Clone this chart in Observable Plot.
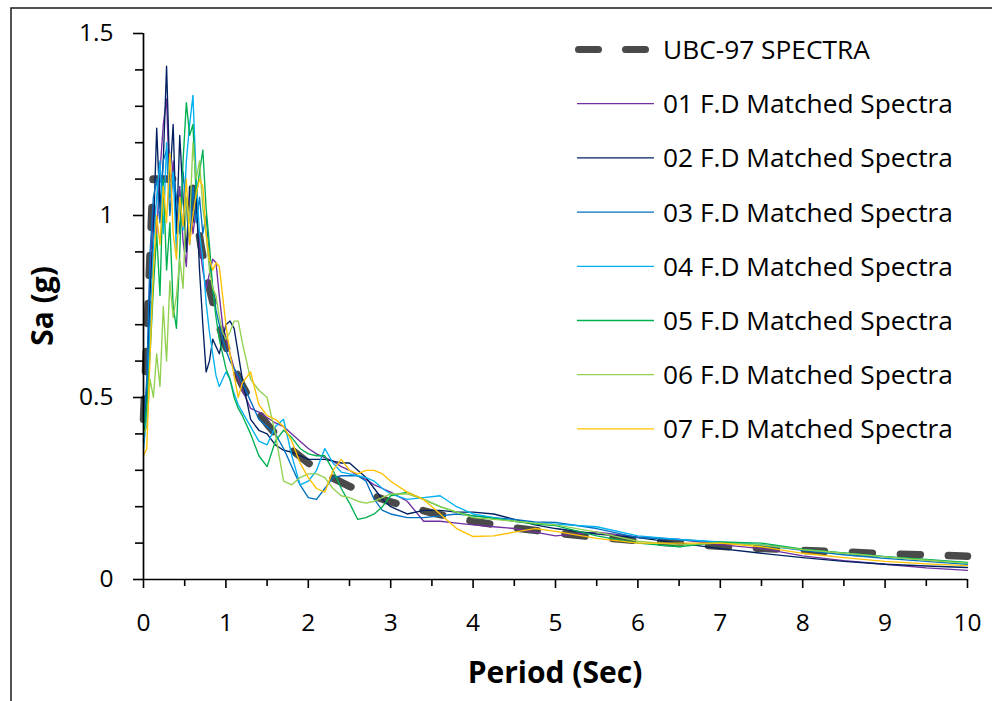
<!DOCTYPE html>
<html>
<head>
<meta charset="utf-8">
<script src="https://cdn.jsdelivr.net/npm/d3@7"></script>
<script src="https://cdn.jsdelivr.net/npm/@observablehq/plot@0.6"></script>
<style>
  html, body { margin: 0; padding: 0; background: #fff; }
  #chart svg { display: block; }
</style>
</head>
<body>
<div id="chart"></div>
<script>
// ---------- DATA ----------
const periods = [0, 0.04, 0.08, 0.12, 0.16, 0.20, 0.24, 0.28, 0.32, 0.36, 0.40, 0.44, 0.48, 0.52, 0.56, 0.60, 0.64, 0.68, 0.72, 0.76, 0.80, 0.84, 0.88, 0.92, 0.96, 1.00, 1.05, 1.10, 1.15, 1.20, 1.3, 1.4, 1.5, 1.6, 1.7, 1.8, 1.9, 2.0, 2.1, 2.2, 2.3, 2.4, 2.5, 2.6, 2.7, 2.8, 2.9, 3.0, 3.2, 3.4, 3.6, 3.8, 4.0, 4.25, 4.5, 4.75, 5.0, 5.5, 6.0, 6.5, 7.0, 7.5, 8.0, 8.5, 9.0, 9.5, 10];

const ubcPeriods = [0, 0.116, 0.58, 0.6, 0.65, 0.7, 0.75, 0.8, 0.85, 0.9, 0.95, 1.0, 1.1, 1.2, 1.3, 1.4, 1.5, 1.6, 1.8, 2.0, 2.25, 2.5, 2.75, 3.0, 3.5, 4.0, 4.5, 5.0, 5.5, 6.0, 7.0, 8.0, 9.0, 10.0];
const ubcSa = [0.44, 1.1, 1.1, 1.067, 0.985, 0.914, 0.853, 0.8, 0.753, 0.711, 0.674, 0.64, 0.582, 0.533, 0.492, 0.457, 0.427, 0.4, 0.356, 0.32, 0.284, 0.256, 0.233, 0.213, 0.183, 0.16, 0.142, 0.128, 0.116, 0.107, 0.091, 0.08, 0.071, 0.064];

const fd01 = [0.40, 0.52, 0.85, 1.02, 0.95, 1.12, 1.25, 1.32, 1.05, 1.15, 0.98, 1.08, 0.93, 0.86, 1.05, 0.95, 1.02, 0.92, 0.85, 0.80, 0.84, 0.88, 0.87, 0.78, 0.70, 0.66, 0.62, 0.58, 0.55, 0.52, 0.47, 0.46, 0.445, 0.43, 0.42, 0.40, 0.38, 0.36, 0.345, 0.335, 0.325, 0.31, 0.30, 0.285, 0.275, 0.26, 0.25, 0.24, 0.215, 0.16, 0.16, 0.155, 0.15, 0.145, 0.14, 0.13, 0.12, 0.13, 0.117, 0.11, 0.096, 0.085, 0.065, 0.052, 0.042, 0.032, 0.025];
const fd02 = [0.38, 0.50, 0.78, 0.95, 1.24, 1.02, 1.15, 1.41, 1.10, 1.25, 0.95, 1.22, 1.05, 0.90, 1.08, 0.98, 1.05, 0.85, 0.70, 0.57, 0.60, 0.66, 0.64, 0.62, 0.66, 0.70, 0.71, 0.69, 0.62, 0.55, 0.44, 0.41, 0.40, 0.37, 0.355, 0.35, 0.34, 0.33, 0.33, 0.33, 0.325, 0.32, 0.32, 0.30, 0.28, 0.25, 0.22, 0.20, 0.18, 0.19, 0.19, 0.185, 0.185, 0.18, 0.165, 0.15, 0.14, 0.125, 0.115, 0.10, 0.085, 0.072, 0.06, 0.05, 0.042, 0.037, 0.033];
const fd03 = [0.42, 0.55, 0.90, 1.05, 1.10, 0.98, 1.15, 1.18, 1.00, 1.12, 1.05, 0.95, 1.12, 1.02, 0.92, 1.08, 0.98, 1.05, 0.95, 1.00, 0.88, 0.80, 0.74, 0.70, 0.66, 0.63, 0.60, 0.58, 0.56, 0.54, 0.49, 0.44, 0.42, 0.40, 0.36, 0.31, 0.26, 0.225, 0.22, 0.25, 0.28, 0.285, 0.285, 0.285, 0.27, 0.22, 0.19, 0.18, 0.17, 0.17, 0.175, 0.18, 0.175, 0.17, 0.165, 0.158, 0.157, 0.14, 0.115, 0.11, 0.102, 0.095, 0.08, 0.068, 0.058, 0.05, 0.042];
const fd04 = [0.36, 0.45, 0.70, 0.92, 1.05, 1.15, 0.95, 1.20, 1.05, 1.12, 0.90, 1.05, 0.96, 1.15, 1.25, 1.33, 1.10, 0.95, 0.88, 0.76, 0.68, 0.62, 0.56, 0.53, 0.55, 0.57, 0.55, 0.51, 0.48, 0.46, 0.42, 0.38, 0.37, 0.42, 0.44, 0.34, 0.26, 0.27, 0.30, 0.36, 0.32, 0.295, 0.29, 0.285, 0.28, 0.27, 0.25, 0.235, 0.22, 0.225, 0.23, 0.20, 0.18, 0.17, 0.16, 0.155, 0.152, 0.145, 0.12, 0.11, 0.103, 0.095, 0.082, 0.072, 0.063, 0.054, 0.044];
const fd05 = [0.40, 0.48, 0.62, 0.80, 0.95, 0.78, 1.10, 0.85, 0.98, 0.75, 0.69, 0.90, 1.15, 1.31, 1.22, 1.25, 1.05, 1.12, 1.18, 1.02, 0.92, 0.80, 0.72, 0.66, 0.62, 0.58, 0.55, 0.50, 0.47, 0.45, 0.40, 0.34, 0.31, 0.38, 0.41, 0.39, 0.36, 0.345, 0.34, 0.34, 0.30, 0.25, 0.21, 0.165, 0.17, 0.18, 0.20, 0.23, 0.24, 0.22, 0.20, 0.185, 0.175, 0.168, 0.16, 0.152, 0.148, 0.12, 0.10, 0.09, 0.103, 0.10, 0.083, 0.073, 0.063, 0.055, 0.047];
const fd06 = [0.40, 0.42, 0.55, 0.50, 0.62, 0.53, 0.75, 0.60, 0.82, 0.72, 0.78, 0.88, 0.80, 1.05, 0.98, 1.20, 1.10, 1.15, 1.02, 0.95, 0.85, 0.80, 0.78, 0.72, 0.68, 0.66, 0.68, 0.71, 0.71, 0.65, 0.55, 0.52, 0.50, 0.40, 0.27, 0.26, 0.28, 0.29, 0.29, 0.28, 0.25, 0.23, 0.225, 0.215, 0.21, 0.215, 0.225, 0.235, 0.235, 0.22, 0.20, 0.185, 0.17, 0.165, 0.16, 0.155, 0.15, 0.13, 0.105, 0.095, 0.10, 0.095, 0.082, 0.072, 0.062, 0.053, 0.045];
const fd07 = [0.34, 0.36, 0.62, 0.85, 1.00, 0.92, 1.08, 0.98, 1.17, 0.95, 0.88, 1.05, 0.97, 1.10, 0.92, 1.00, 1.06, 1.10, 1.08, 0.95, 0.88, 0.85, 0.87, 0.86, 0.78, 0.70, 0.62, 0.56, 0.50, 0.54, 0.57, 0.48, 0.45, 0.44, 0.42, 0.38, 0.32, 0.28, 0.25, 0.24, 0.30, 0.33, 0.30, 0.29, 0.30, 0.30, 0.29, 0.27, 0.24, 0.22, 0.18, 0.14, 0.118, 0.12, 0.13, 0.14, 0.132, 0.113, 0.10, 0.10, 0.10, 0.09, 0.072, 0.06, 0.05, 0.043, 0.038];

const seriesNames = ["01 F.D Matched Spectra", "02 F.D Matched Spectra", "03 F.D Matched Spectra", "04 F.D Matched Spectra", "05 F.D Matched Spectra", "06 F.D Matched Spectra", "07 F.D Matched Spectra"];
const seriesValues = [fd01, fd02, fd03, fd04, fd05, fd06, fd07];
const seriesColors = ["#7030A0", "#002060", "#0070C0", "#00B0F0", "#00B050", "#92D050", "#FFC000"];
const ubcName = "UBC-97 SPECTRA";

const xMajorTicks = [0, 1, 2, 3, 4, 5, 6, 7, 8, 9, 10];
const xMinorTicks = [0.5, 1.5, 2.5, 3.5, 4.5, 5.5, 6.5, 7.5, 8.5, 9.5];
const yMajorTicks = [0, 0.5, 1, 1.5];
const yMinorTicks = [0.1, 0.2, 0.3, 0.4, 0.6, 0.7, 0.8, 0.9, 1.1, 1.2, 1.3, 1.4];
const xTitle = "Period (Sec)";
const yTitle = "Sa (g)";

// ---------- BUILD ----------
const ubcData = ubcPeriods.map((T, i) => ({T, Sa: ubcSa[i]}));
const specData = seriesNames.flatMap((name, k) =>
  periods.map((T, i) => ({T, Sa: seriesValues[k][i], name})));
const colorOf = Object.fromEntries(seriesNames.map((n, i) => [n, seriesColors[i]]));

const FONT = "'Open Sans', Calibri, Carlito, Lato, sans-serif";

const chart = Plot.plot({
  width: 992,
  height: 701,
  marginLeft: 143,
  marginRight: 25,
  marginTop: 33,
  marginBottom: 122,
  style: {fontFamily: FONT, fontSize: "24px", color: "#000", background: "#fff", overflow: "visible"},
  x: {domain: [0, 10], label: null},
  y: {domain: [0, 1.5], label: null},
  marks: [
    Plot.line(ubcData, {x: "T", y: "Sa", stroke: "#4a4a4a", strokeWidth: 7.5,
      strokeDasharray: "20,28", strokeLinecap: "round", strokeLinejoin: "round"}),
    Plot.line(specData, {x: "T", y: "Sa", z: "name", stroke: d => colorOf[d.name], strokeWidth: 1.35}),
    Plot.axisY(yMinorTicks, {tickSize: 8, tickFormat: () => "", label: null, strokeWidth: 1.6, stroke: "#000"}),
    Plot.axisY(yMajorTicks, {tickSize: 10, tickPadding: 20, tickFormat: d => String(d), label: null, strokeWidth: 1.6, stroke: "#000", fontSize: 24.5}),
    Plot.axisX(xMinorTicks, {tickSize: 7, tickFormat: () => "", label: null, strokeWidth: 1.6, stroke: "#000"}),
    Plot.axisX(xMajorTicks, {tickSize: 9, tickPadding: 25, tickFormat: d => String(d), label: null, strokeWidth: 1.6, stroke: "#000", fontSize: 24.5}),
    Plot.ruleX([0], {stroke: "#000", strokeWidth: 1.7}),
    Plot.ruleY([0], {stroke: "#000", strokeWidth: 1.7})
  ]
});

const svg = d3.select(chart);

// outer frame (chart area border)
svg.append("path")
  .attr("d", "M11,701V8H992")
  .attr("fill", "none")
  .attr("stroke", "#1a1a1a")
  .attr("stroke-width", 1.5);

// axis titles
svg.append("text")
  .attr("x", 555).attr("y", 683)
  .attr("text-anchor", "middle")
  .style("font-family", FONT).style("font-weight", "bold").style("font-size", "30px")
  .attr("fill", "#000")
  .text(xTitle);

svg.append("text")
  .attr("transform", "translate(53,306) rotate(-90)")
  .attr("text-anchor", "middle")
  .style("font-family", FONT).style("font-weight", "bold").style("font-size", "30px")
  .attr("fill", "#000")
  .text(yTitle);

// legend
const legend = svg.append("g");
const rowY = i => 49.5 + i * 54.2;
const legendItems = [{name: ubcName, color: "#4a4a4a", dashed: true}]
  .concat(seriesNames.map((n, i) => ({name: n, color: seriesColors[i], dashed: false})));
legendItems.forEach((it, i) => {
  const y = rowY(i);
  if (it.dashed) {
    legend.append("line")
      .attr("x1", 578.5).attr("x2", 645.5).attr("y1", y).attr("y2", y)
      .attr("stroke", it.color).attr("stroke-width", 7)
      .attr("stroke-linecap", "round").attr("stroke-dasharray", "20,27");
  } else {
    legend.append("line")
      .attr("x1", 577).attr("x2", 654).attr("y1", y).attr("y2", y)
      .attr("stroke", it.color).attr("stroke-width", 1.3);
  }
  legend.append("text")
    .attr("x", 663).attr("y", y)
    .attr("dy", "0.36em")
    .attr("text-anchor", "start")
    .style("font-family", FONT).style("font-size", "26.3px")
    .attr("fill", "#000")
    .text(it.name);
});

document.getElementById("chart").appendChild(chart);
</script>
</body>
</html>
